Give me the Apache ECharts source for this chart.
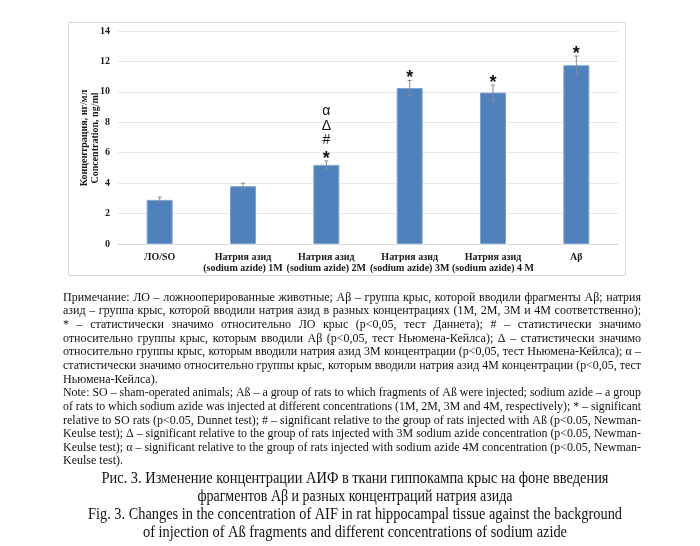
<!DOCTYPE html>
<html><head><meta charset="utf-8">
<script src="https://cdn.jsdelivr.net/npm/echarts@6/dist/echarts.min.js"></script>
<style>html,body{margin:0;padding:0;background:#fff}#c{width:700px;height:546px}</style>
</head><body><div id="c"></div>
<script>
const categories = ['ЛО/SO', 'Натрия азид\n(sodium azide) 1M', 'Натрия азид\n(sodium azide) 2M', 'Натрия азид\n(sodium azide) 3M', 'Натрия азид\n(sodium azide) 4 M', 'Aβ'];
const values = [2.9, 3.8, 5.2, 10.25, 9.95, 11.75];
const errors = [0.18, 0.2, 0.26, 0.5, 0.5, 0.6];
const marks = [[], [], ['*', '#', 'Δ', 'α'], ['*'], ['*'], ['*']];
const yTicks = [0, 2, 4, 6, 8, 10, 12, 14];
const yNameLines = ['Концентрация, нг/мл', 'Concentration, ng/ml'];
const noteRu = [
  'Примечание: ЛО – ложнооперированные животные; Aβ – группа крыс, которой вводили фрагменты Aβ; натрия',
  'азид – группа крыс, которой вводили натрия азид в разных концентрациях (1М, 2М, 3М и 4М соответственно);',
  '* – статистически значимо относительно ЛО крыс (p<0,05, тест Даннета); # – статистически значимо',
  'относительно группы крыс, которым вводили Aβ (p<0,05, тест Ньюмена-Кейлса); Δ – статистически значимо',
  'относительно группы крыс, которым вводили натрия азид 3М концентрации (p<0,05, тест Ньюмена-Кейлса); α –',
  'статистически значимо относительно группы крыс, которым вводили натрия азид 4М концентрации (p<0,05, тест',
  'Ньюмена-Кейлса).'
];
const noteEn = [
  'Note: SO – sham-operated animals; Aß – a group of rats to which fragments of Aß were injected; sodium azide – a group',
  'of rats to which sodium azide was injected at different concentrations (1M, 2M, 3M and 4M, respectively); * – significant',
  'relative to SO rats (p<0.05, Dunnet test); # – significant relative to the group of rats injected with Aß (p<0.05, Newman-',
  'Keulse test); Δ – significant relative to the group of rats injected with 3M sodium azide concentration (p<0.05, Newman-',
  'Keulse test); α – significant relative to the group of rats injected with sodium azide 4M concentration (p<0.05, Newman-',
  'Keulse test).'
];
const captions = [
  'Рис. 3. Изменение концентрации АИФ в ткани гиппокампа крыс на фоне введения',
  'фрагментов Aβ и разных концентраций натрия азида',
  'Fig. 3. Changes in the concentration of AIF in rat hippocampal tissue against the background',
  'of injection of Aß fragments and different concentrations of sodium azide'
];
const captionWidths = [507, 315, 534, 424];

const chart = echarts.init(document.getElementById('c'), null, {renderer: 'canvas'});
const mctx = document.createElement('canvas').getContext('2d');
function measure(s, font) { mctx.font = font; return mctx.measureText(s).width; }

const NOTE_FONT_SIZE = 12;
const NOTE_FAMILY = '"Liberation Serif", "Times New Roman", serif';
const noteFont = NOTE_FONT_SIZE + 'px ' + NOTE_FAMILY;
const graphics = [];

// frame
graphics.push({type: 'rect', shape: {x: 68.5, y: 22.5, width: 557, height: 253}, style: {fill: 'none', stroke: '#d9d9d9', lineWidth: 1}, z: -1});

// y-axis name (rotated two lines)
graphics.push({
  type: 'text', x: 90, y: 138, rotation: Math.PI / 2,
  style: {text: yNameLines.join('\n'), font: 'bold 10px "Liberation Serif", serif', fill: '#1a1a1a', align: 'center', verticalAlign: 'middle', lineHeight: 11}
});

function addLine(text, y, left, right, justify) {
  const words = text.split(' ');
  const widths = words.map(w => measure(w, noteFont));
  const W = widths.reduce((a, b) => a + b, 0);
  const sp = measure(' ', noteFont);
  const n = words.length;
  const target = right - left;
  const natural = W + (n - 1) * sp;
  let scale = 1, gap = sp;
  if (natural > target) { scale = target / natural; gap = sp * scale; }
  else if (justify && n > 1) { gap = (target - W) / (n - 1); }
  let x = left;
  words.forEach((w, i) => {
    graphics.push({type: 'text', x: x, y: y, scaleX: scale, style: {text: w, font: noteFont, fill: '#111', align: 'left', verticalAlign: 'middle'}});
    x += widths[i] * scale + gap;
  });
}
const NOTE_LEFT = 63, NOTE_RIGHT = 641, NOTE_TOP = 297.5, NOTE_STEP = 13.65;
const allNotes = noteRu.concat(noteEn);
allNotes.forEach((t, i) => {
  const last = (i === noteRu.length - 1) || (i === allNotes.length - 1);
  addLine(t, NOTE_TOP + i * NOTE_STEP, NOTE_LEFT, NOTE_RIGHT, !last);
});

const CAP_FONT = '16px "Liberation Serif", "Times New Roman", serif';
const capY = [479, 497, 515, 533];
captions.forEach((t, i) => {
  const w = measure(t, CAP_FONT);
  const s = captionWidths[i] / w;
  graphics.push({type: 'text', x: 355 - captionWidths[i] / 2, y: capY[i], scaleX: s, style: {text: t, font: CAP_FONT, fill: '#111', align: 'left', verticalAlign: 'middle'}});
});

const option = {
  backgroundColor: '#fff',
  animation: false,
  grid: {left: 118, right: 82, top: 31, bottom: 302, containLabel: false},
  xAxis: {
    type: 'category', data: categories,
    axisLine: {lineStyle: {color: '#d9d9d9'}},
    axisTick: {show: false},
    axisLabel: {interval: 0, margin: 8, fontFamily: '"Liberation Serif", serif', fontWeight: 'bold', fontSize: 10, color: '#1a1a1a', lineHeight: 11}
  },
  yAxis: {
    type: 'value', min: 0, max: 14, interval: 2,
    axisLine: {show: false}, axisTick: {show: false},
    splitLine: {lineStyle: {color: '#e8e8e8'}},
    axisLabel: {margin: 8, fontFamily: '"Liberation Serif", serif', fontWeight: 'bold', fontSize: 10, color: '#1a1a1a'}
  },
  series: [
    {type: 'bar', data: values, barWidth: 26, itemStyle: {color: '#4f81bd', borderColor: '#7fa3d3', borderWidth: 1}},
    {
      type: 'custom', z: 10,
      data: values.map((v, i) => [i, v, errors[i]]),
      renderItem: (params, api) => {
        const i = api.value(0), v = api.value(1), e = api.value(2);
        const t = api.coord([i, v + e]), b = api.coord([i, v - e]);
        const hw = 2;
        return {type: 'group', children: [
          {type: 'line', shape: {x1: t[0], y1: t[1], x2: b[0], y2: b[1]}, style: {stroke: '#8a8a8a', lineWidth: 1}},
          {type: 'line', shape: {x1: t[0] - hw, y1: t[1], x2: t[0] + hw, y2: t[1]}, style: {stroke: '#8a8a8a', lineWidth: 1}},
          {type: 'line', shape: {x1: b[0] - hw, y1: b[1], x2: b[0] + hw, y2: b[1]}, style: {stroke: '#8a8a8a', lineWidth: 1}}
        ]};
      }
    },
    {
      type: 'custom', z: 11,
      data: values.map((v, i) => [i, v + errors[i]]),
      renderItem: (params, api) => {
        const i = api.value(0);
        const p = api.coord([i, api.value(1)]);
        const list = marks[params.dataIndex];
        const children = list.map((m, k) => {
          const isStar = m === '*';
          return {
            type: 'text', x: p[0], y: p[1] - 6 - k * 14.5 + (isStar ? 4 : 0),
            style: {text: m, font: isStar ? 'bold 18px "Liberation Sans", Arial, sans-serif' : '14px "Liberation Sans", Arial, sans-serif', fill: '#111', align: 'center', verticalAlign: 'middle'}
          };
        });
        return {type: 'group', children: children};
      }
    }
  ],
  graphic: graphics
};
chart.setOption(option);
</script>
</body></html>
